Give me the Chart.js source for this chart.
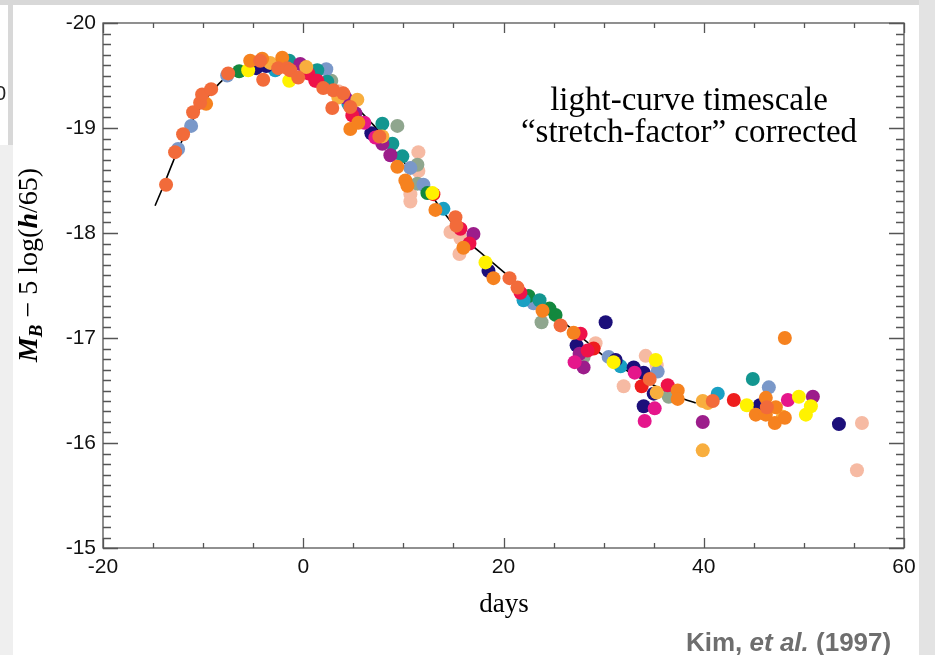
<!DOCTYPE html>
<html>
<head>
<meta charset="utf-8">
<script src="https://cdn.jsdelivr.net/npm/chart.js@4.4.0/dist/chart.umd.min.js"></script>
<style>
html, body { margin: 0; padding: 0; background: #fff; }
#lc { display: block; }
</style>
</head>
<body>
<canvas id="lc" width="935" height="655"></canvas>
<script>
// template B-band light curve (days, magnitude)
const curve = [
  [-14.8, -18.26], [-14, -18.44], [-13, -18.68], [-12, -18.9], [-11, -19.08], [-10, -19.24],
  [-9, -19.36], [-8, -19.46], [-7, -19.53], [-6, -19.58], [-5, -19.61], [-4, -19.63],
  [-3, -19.64], [-2, -19.63], [-1, -19.61], [0, -19.58], [1, -19.53], [2, -19.47],
  [3, -19.4], [4, -19.32], [5, -19.23], [6, -19.13], [7, -19.03], [8, -18.92],
  [9, -18.8], [10, -18.68], [11, -18.57], [12, -18.45], [13, -18.33], [14, -18.2],
  [15, -18.08], [16, -17.96], [17, -17.87], [18, -17.79], [19, -17.71], [20, -17.63],
  [21, -17.55], [22, -17.47], [23, -17.39], [24, -17.31], [25, -17.23], [26, -17.15],
  [27, -17.07], [28, -16.99], [29, -16.91], [30, -16.83], [31, -16.77], [32, -16.71],
  [33, -16.65], [34, -16.6], [35, -16.55], [36, -16.5], [37, -16.46], [38, -16.42], [39.2, -16.38]
];

// one array of [day, mag] per supernova
const coral = [[-13.7,-18.46],[-12.8,-18.77],[-12.0,-18.94],[-11.0,-19.15],[-10.3,-19.24],[-10.1,-19.32],[-9.2,-19.37],[-7.5,-19.52],[-4.3,-19.64],[-4.0,-19.46],[-2.5,-19.57],[-1.6,-19.57],[-1.3,-19.55],[-0.5,-19.48],[2.0,-19.38],[3.0,-19.36],[2.9,-19.19],[4.0,-19.33],[4.7,-19.2],[7.6,-18.92],[15.2,-18.15],[15.3,-18.07],[20.6,-17.57],[21.4,-17.48],[25.7,-17.12],[34.6,-16.61],[40.9,-16.4],[46.3,-16.34]];
const orange = [[-9.7,-19.23],[-5.3,-19.64],[-4.1,-19.66],[-2.1,-19.67],[4.7,-18.99],[5.5,-19.05],[9.4,-18.63],[10.2,-18.5],[10.4,-18.45],[13.2,-18.22],[16.0,-17.86],[19.0,-17.57],[23.9,-17.26],[27.0,-17.05],[37.4,-16.5],[37.4,-16.42],[46.2,-16.43],[47.2,-16.34],[45.2,-16.27],[46.2,-16.27],[47.1,-16.19],[48.1,-17.0],[48.1,-16.24]];
const ltOrange = [[-3.3,-19.62],[3.5,-19.29],[5.4,-19.27],[7.9,-18.92],[0.3,-19.58],[35.3,-16.48],[39.9,-16.4],[40.4,-16.38],[39.9,-15.93],[47.9,-16.25]];
const navy = [[-4.7,-19.57],[-3.7,-19.59],[6.8,-18.95],[18.5,-17.64],[30.2,-17.15],[31.2,-16.79],[33.0,-16.72],[34.0,-16.67],[35.0,-16.47],[34.0,-16.35],[45.6,-16.36],[53.5,-16.18],[27.3,-16.93]];
const teal = [[-1.4,-19.64],[1.2,-19.54],[1.4,-19.55],[2.4,-19.44],[7.9,-19.04],[8.9,-18.85],[9.9,-18.73],[23.6,-17.36],[44.9,-16.61]];
const green = [[-6.4,-19.54],[12.4,-18.38],[22.5,-17.4],[25.2,-17.22],[24.6,-17.28]];
const sage = [[9.4,-19.02],[11.4,-18.65],[11.4,-18.47],[36.5,-16.44],[23.8,-17.15],[28.0,-16.82],[2.8,-19.45]];
const steel = [[-12.5,-18.8],[-11.2,-19.02],[-7.6,-19.5],[2.3,-19.56],[10.7,-18.62],[12.0,-18.46],[23.0,-17.33],[30.5,-16.82],[35.4,-16.68],[46.5,-16.53]];
const pink = [[6.1,-19.05],[7.2,-18.91],[33.1,-16.67],[35.1,-16.33],[34.1,-16.21],[48.4,-16.41],[27.1,-16.77]];
const purple = [[-0.3,-19.61],[4.2,-19.29],[5.2,-19.14],[7.9,-18.85],[8.7,-18.74],[17.0,-17.99],[28.0,-16.72],[39.9,-16.2],[50.9,-16.44],[27.6,-16.85]];
const crimson = [[0.5,-19.52],[1.2,-19.45],[1.4,-19.45],[4.9,-19.12],[15.7,-18.04],[16.6,-17.9],[21.7,-17.43],[27.7,-17.04],[28.4,-16.88],[36.4,-16.55]];
const red = [[13.0,-18.37],[33.8,-16.54],[43.0,-16.41],[29.0,-16.9]];
const yellow = [[-5.5,-19.55],[-1.4,-19.45],[12.9,-18.38],[18.2,-17.72],[31.0,-16.77],[35.2,-16.79],[44.3,-16.36],[49.5,-16.44],[50.7,-16.35],[50.2,-16.27]];
const peach = [[3.5,-19.35],[11.5,-18.77],[11.5,-18.59],[10.7,-18.37],[10.7,-18.3],[14.7,-18.01],[15.7,-17.95],[15.6,-17.8],[29.2,-16.95],[34.2,-16.83],[35.3,-16.74],[32.0,-16.54],[55.8,-16.19],[55.3,-15.74]];
const cyan = [[-2.8,-19.55],[4.5,-19.23],[14.0,-18.23],[22.0,-17.36],[31.7,-16.73],[41.4,-16.47]];

const xTicks = [-20, 0, 20, 40, 60];
const yTicks = [-20, -19, -18, -17, -16, -15];

const pts = arr => arr.map(([x, y]) => ({ x, y }));

const series = [
  [peach, '#f6baa3'], [sage, '#8fa68e'], [steel, '#7a98c9'], [green, '#13883e'],
  [teal, '#139690'], [cyan, '#1aa0c3'], [navy, '#1c0f7a'], [purple, '#9c1d8b'],
  [pink, '#e5168b'], [red, '#ee1d1d'], [crimson, '#ee1249'], [yellow, '#fff200'],
  [ltOrange, '#f8ae3e'], [orange, '#f6821f'], [coral, '#f26b3a']
];

const datasets = series.map(([arr, col], i) => ({
  type: 'scatter',
  data: pts(arr),
  backgroundColor: col,
  borderWidth: 0,
  pointRadius: 7,
  order: series.length - i
}));
datasets.push({
  type: 'line',
  data: pts(curve),
  borderColor: '#000',
  borderWidth: 1.6,
  pointRadius: 0,
  tension: 0.4,
  fill: false,
  order: 99
});

// page backdrop behind the white panel
const backdrop = {
  id: 'backdrop',
  beforeDraw(chart) {
    const ctx = chart.ctx;
    ctx.save();
    ctx.fillStyle = '#d8d8d8';
    ctx.fillRect(0, 0, 935, 655);
    ctx.fillStyle = '#ffffff';
    ctx.fillRect(13, 5, 906, 650);
    ctx.fillStyle = '#efefef';
    ctx.fillRect(0, 145, 13, 510);
    ctx.fillStyle = '#e3e3e3';
    ctx.fillRect(919, 0, 16, 655);
    ctx.fillStyle = '#ffffff';
    ctx.fillRect(0, 5, 8, 140);
    ctx.fillStyle = '#222';
    ctx.font = '20px "Liberation Sans", Arial, sans-serif';
    ctx.textBaseline = 'middle';
    ctx.fillText('0', -5, 94);
    ctx.restore();
  }
};

// box with inward ticks on all four sides
const frame = {
  id: 'frame',
  beforeDatasetsDraw(chart) {
    const { ctx, chartArea: a, scales: { x, y } } = chart;
    ctx.save();
    ctx.strokeStyle = '#555';
    ctx.lineWidth = 1.3;
    ctx.strokeRect(a.left, a.top, a.right - a.left, a.bottom - a.top);
    ctx.beginPath();
    for (let d = -20; d <= 60; d += 5) {
      const px = Math.round(x.getPixelForValue(d)) + 0.5;
      const len = d % 20 === 0 ? 10 : 5;
      ctx.moveTo(px, a.bottom); ctx.lineTo(px, a.bottom - len);
      ctx.moveTo(px, a.top); ctx.lineTo(px, a.top + len);
    }
    for (let i = 0; i <= 50; i++) {
      const py = Math.round(y.getPixelForValue(-20 + i / 10)) + 0.5;
      const len = i % 10 === 0 ? 15 : 8;
      ctx.moveTo(a.left, py); ctx.lineTo(a.left + len, py);
      ctx.moveTo(a.right, py); ctx.lineTo(a.right - len, py);
    }
    ctx.stroke();
    ctx.restore();
  }
};

// axis titles, annotation and credit
const labels = {
  id: 'labels',
  afterDraw(chart) {
    const ctx = chart.ctx;
    const serif = '"Liberation Serif", "Times New Roman", serif';
    ctx.save();
    ctx.fillStyle = '#000';

    // y title: M_B − 5 log(h/65)
    ctx.save();
    ctx.translate(37, 265);
    ctx.rotate(-Math.PI / 2);
    const parts = [
      ['M', 'italic bold 28px ' + serif, 0],
      ['B', 'italic bold 19px ' + serif, 5],
      [' \u2212 5 log(', '28px ' + serif, 0],
      ['h', 'italic bold 28px ' + serif, 0],
      ['/65)', '28px ' + serif, 0]
    ];
    let total = 0;
    parts.forEach(p => { ctx.font = p[1]; total += ctx.measureText(p[0]).width; });
    let cx = -total / 2;
    ctx.textBaseline = 'alphabetic';
    parts.forEach(p => {
      ctx.font = p[1];
      ctx.fillText(p[0], cx, p[2]);
      cx += ctx.measureText(p[0]).width;
    });
    ctx.restore();

    ctx.textAlign = 'center';
    ctx.textBaseline = 'alphabetic';
    ctx.font = '27px ' + serif;
    ctx.fillText('days', 504, 612);

    ctx.font = '33px ' + serif;
    ctx.fillText('light-curve timescale', 689, 110);
    ctx.fillText('\u201Cstretch-factor\u201D corrected', 689, 142);

    // credit line
    ctx.textAlign = 'left';
    ctx.fillStyle = '#6e6e6e';
    const sans = '"Liberation Sans", Arial, sans-serif';
    let kx = 686;
    [['Kim, ', 'bold 26px ' + sans], ['et al.', 'italic bold 26px ' + sans], [' (1997)', 'bold 26px ' + sans]]
      .forEach(([t, f]) => {
        ctx.font = f;
        ctx.fillText(t, kx, 651);
        kx += ctx.measureText(t).width;
      });
    ctx.restore();
  }
};

new Chart(document.getElementById('lc').getContext('2d'), {
  type: 'scatter',
  data: { datasets },
  plugins: [backdrop, frame, labels],
  options: {
    responsive: false,
    animation: false,
    events: [],
    layout: {
      autoPadding: false,
      padding: { left: 0, right: 31, top: 23, bottom: 0 }
    },
    plugins: {
      legend: { display: false },
      tooltip: { enabled: false }
    },
    scales: {
      x: {
        type: 'linear',
        min: -20,
        max: 60,
        afterFit(s) { s.height = 107; },
        afterBuildTicks(s) { s.ticks = xTicks.map(v => ({ value: v })); },
        grid: { display: false, drawTicks: false },
        border: { display: false },
        ticks: {
          padding: 7,
          color: '#111',
          font: { family: '"Liberation Sans", Arial, sans-serif', size: 21 },
          callback: v => String(v)
        }
      },
      y: {
        type: 'linear',
        reverse: true,
        min: -20,
        max: -15,
        afterFit(s) { s.width = 103; },
        afterBuildTicks(s) { s.ticks = yTicks.map(v => ({ value: v })); },
        grid: { display: false, drawTicks: false },
        border: { display: false },
        ticks: {
          padding: 7,
          color: '#111',
          font: { family: '"Liberation Sans", Arial, sans-serif', size: 21 },
          callback: v => String(v)
        }
      }
    }
  }
});
</script>
</body>
</html>
